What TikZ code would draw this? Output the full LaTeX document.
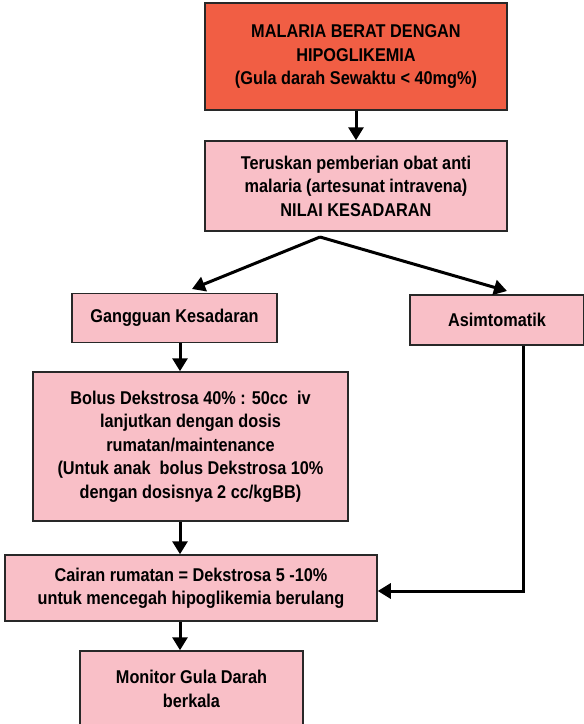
\documentclass[tikz,border=0pt]{standalone}
\usepackage{fontspec}
\setmainfont{Liberation Sans}[FakeStretch=0.88]
\usetikzlibrary{arrows.meta}
\definecolor{merah}{RGB}{241,94,68}
\definecolor{merahmuda}{RGB}{249,191,199}
\definecolor{garis}{RGB}{40,40,40}
\begin{document}
\begin{tikzpicture}[x=1pt,y=-1pt,
		kotak/.style={draw=garis, line width=1.5pt, fill=merahmuda, align=center, inner sep=0pt,
			font=\fontsize{18.5}{23.5}\selectfont\bfseries},
		panah/.style={line width=3pt, -{Triangle[width=15pt,length=13pt]}}
		]
		\useasboundingbox (0,0) rectangle (584,724);
		\node [kotak, fill=merah, minimum width=302pt, minimum height=107pt] (awal) at (356,56.5)
			{MALARIA BERAT DENGAN\\HIPOGLIKEMIA\\(Gula darah Sewaktu < 40mg\%)};
		\node [kotak, minimum width=302pt, minimum height=90pt] (nilai) at (356,186)
			{Teruskan pemberian obat anti\\malaria (artesunat intravena)\\NILAI KESADARAN};
		\node [kotak, minimum width=205pt, minimum height=49pt] (gangguan) at (174.5,318)
			{Gangguan Kesadaran};
		\node [kotak, minimum width=174pt, minimum height=50pt] (asim) at (497,320)
			{Asimtomatik};
		\node [kotak, minimum width=315pt, minimum height=149pt] (bolus) at (190.5,446.5)
			{Bolus Dekstrosa 40\% : 50cc\ \ iv\\lanjutkan dengan dosis\\rumatan/maintenance\\(Untuk anak\ \ bolus Dekstrosa 10\%\\dengan dosisnya 2 cc/kgBB)};
		\node [kotak, minimum width=372pt, minimum height=66pt] (cairan) at (191,588)
			{Cairan rumatan = Dekstrosa 5 -10\%\\untuk mencegah hipoglikemia berulang};
		\node [kotak, minimum width=223pt, minimum height=76pt] (monitor) at (191.5,689)
			{Monitor Gula Darah\\berkala};
		\coordinate (pusat) at (180,0);
		\coordinate (cabang) at (320,237);
		\draw [panah] (awal.south) -- (nilai.north);
		\draw [panah] (cabang) -- (192,289);
		\draw [panah] (cabang) -- (507,291);
		\draw [panah] (gangguan.south -| pusat) -- (bolus.north -| pusat);
		\draw [panah] (bolus.south -| pusat) -- (cairan.north -| pusat);
		\draw [panah] (cairan.south -| pusat) -- (monitor.north -| pusat);
		\draw [panah] ([xshift=26pt]asim.south) |- ([yshift=-3pt]cairan.east);
	\end{tikzpicture}
\end{document}
